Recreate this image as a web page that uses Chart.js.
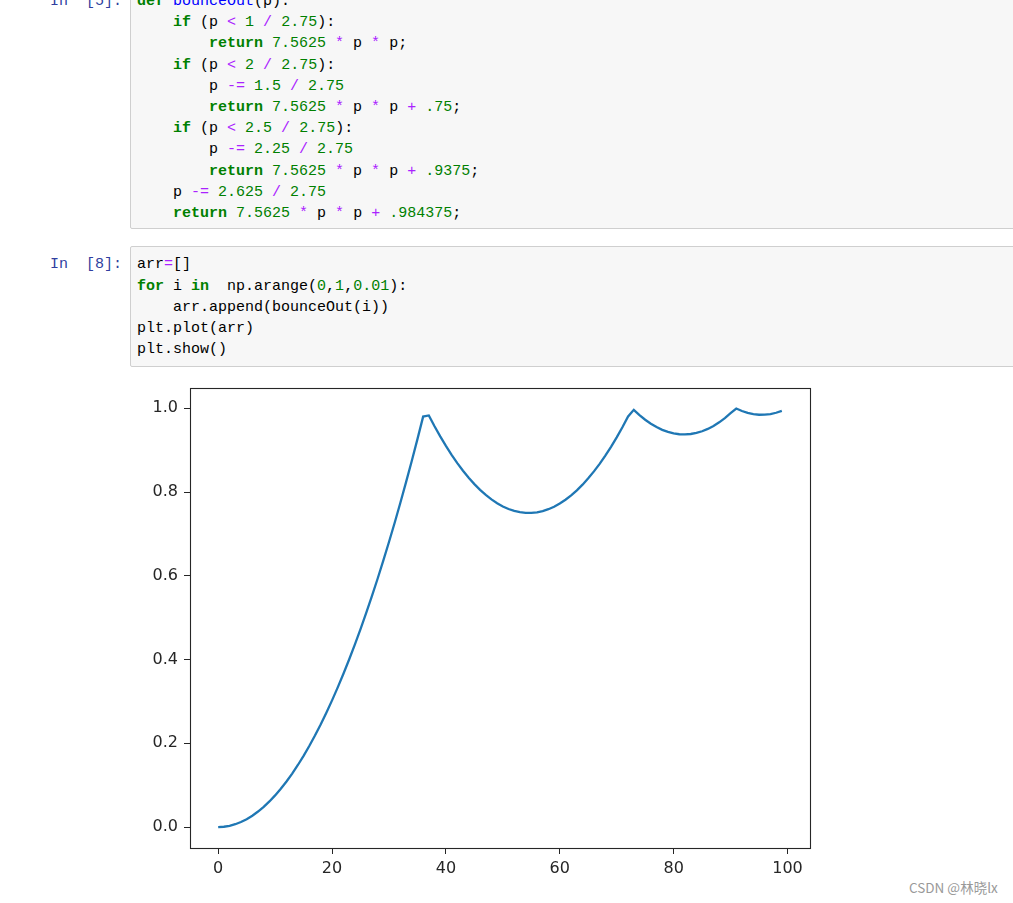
<!DOCTYPE html>
<html>
<head>
<meta charset="utf-8">
<script src="https://cdn.jsdelivr.net/npm/chart.js@4/dist/chart.umd.min.js"></script>
<style>
  html, body { margin: 0; padding: 0; background: #fff; }
  body { width: 1013px; height: 903px; overflow: hidden; position: relative; }
  .box {
    position: absolute; left: 130px; width: 1000px;
    background: #f7f7f7; border: 1px solid #cfcfcf; border-radius: 2px;
    box-sizing: border-box;
  }
  pre {
    margin: 0; font-family: "Liberation Mono", "DejaVu Sans Mono", monospace;
    font-size: 15px; line-height: 21.2px; color: #000;
  }
  .code { position: absolute; left: 137px; }
  .prompt { position: absolute; right: 891px; color: #303f9f; }
  .k { color: #008000; font-weight: bold; }
  .n { color: #008000; }
  .o { color: #aa22ff; }
  .f { color: #0000ff; }
  #wrap { position: absolute; left: 120px; top: 372px; width: 700px; height: 515px; }
  #mark {
    position: absolute; left: 909px; top: 877px; color: #999;
    font-family: "Noto Sans CJK SC", "Noto Sans", sans-serif; font-size: 13.5px;
  }
</style>
</head>
<body>
<div class="box" style="top:-18px; height:247px;"></div>
<pre class="prompt" style="top:-9.1px;">In  [5]:</pre>
<pre class="code" style="top:-9.1px;"><span class="k">def</span> <span class="f">bounceOut</span>(p):
    <span class="k">if</span> (p <span class="o">&lt;</span> <span class="n">1</span> <span class="o">/</span> <span class="n">2.75</span>):
        <span class="k">return</span> <span class="n">7.5625</span> <span class="o">*</span> p <span class="o">*</span> p;
    <span class="k">if</span> (p <span class="o">&lt;</span> <span class="n">2</span> <span class="o">/</span> <span class="n">2.75</span>):
        p <span class="o">-=</span> <span class="n">1.5</span> <span class="o">/</span> <span class="n">2.75</span>
        <span class="k">return</span> <span class="n">7.5625</span> <span class="o">*</span> p <span class="o">*</span> p <span class="o">+</span> <span class="n">.75</span>;
    <span class="k">if</span> (p <span class="o">&lt;</span> <span class="n">2.5</span> <span class="o">/</span> <span class="n">2.75</span>):
        p <span class="o">-=</span> <span class="n">2.25</span> <span class="o">/</span> <span class="n">2.75</span>
        <span class="k">return</span> <span class="n">7.5625</span> <span class="o">*</span> p <span class="o">*</span> p <span class="o">+</span> <span class="n">.9375</span>;
    p <span class="o">-=</span> <span class="n">2.625</span> <span class="o">/</span> <span class="n">2.75</span>
    <span class="k">return</span> <span class="n">7.5625</span> <span class="o">*</span> p <span class="o">*</span> p <span class="o">+</span> <span class="n">.984375</span>;</pre>

<div class="box" style="top:246px; height:121px;"></div>
<pre class="prompt" style="top:254.4px;">In  [8]:</pre>
<pre class="code" style="top:254.4px;">arr<span class="o">=</span>[]
<span class="k">for</span> i <span class="k">in</span>  np.arange(<span class="n">0</span>,<span class="n">1</span>,<span class="n">0.01</span>):
    arr.append(bounceOut(i))
plt.plot(arr)
plt.show()</pre>

<div id="wrap"><canvas id="myChart" width="700" height="515"></canvas></div>
<div id="mark">CSDN @林晓lx</div>

<script>
// bounceOut(i) for i in np.arange(0, 1, 0.01)
const arr = [
    0.000000, 0.000756, 0.003025, 0.006806, 0.012100, 0.018906, 0.027225, 0.037056, 0.048400, 0.061256,
    0.075625, 0.091506, 0.108900, 0.127806, 0.148225, 0.170156, 0.193600, 0.218556, 0.245025, 0.273006,
    0.302500, 0.333506, 0.366025, 0.400056, 0.435600, 0.472656, 0.511225, 0.551306, 0.592900, 0.636006,
    0.680625, 0.726756, 0.774400, 0.823556, 0.874225, 0.926406, 0.980100, 0.982806, 0.957025, 0.932756,
    0.910000, 0.888756, 0.869025, 0.850806, 0.834100, 0.818906, 0.805225, 0.793056, 0.782400, 0.773256,
    0.765625, 0.759506, 0.754900, 0.751806, 0.750225, 0.750156, 0.751600, 0.754556, 0.759025, 0.765006,
    0.772500, 0.781506, 0.792025, 0.804056, 0.817600, 0.832656, 0.849225, 0.867306, 0.886900, 0.908006,
    0.930625, 0.954756, 0.980400, 0.996306, 0.983725, 0.972656, 0.963100, 0.955056, 0.948525, 0.943506,
    0.940000, 0.938006, 0.937525, 0.938556, 0.941100, 0.945156, 0.950725, 0.957806, 0.966400, 0.976506,
    0.988125, 0.999381, 0.993400, 0.988931, 0.985975, 0.984531, 0.984600, 0.986181, 0.989275, 0.993881
];

const xTicks = [0, 20, 40, 60, 80, 100];
const xTickLabels = ['0', '20', '40', '60', '80', '100'];
const yTicks = [0, 0.2, 0.4, 0.6, 0.8, 1.0];
const yTickLabels = ['0.0', '0.2', '0.4', '0.6', '0.8', '1.0'];

const INK = '#262626';
const tickFont = { family: "'DejaVu Sans', sans-serif", size: 16 };

// matplotlib style frame around the axes
const frame = {
    id: 'frame',
    afterDraw(chart) {
        const a = chart.chartArea;
        const c = chart.ctx;
        c.save();
        c.strokeStyle = INK;
        c.lineWidth = 1.1;
        c.strokeRect(Math.round(a.left) + 0.5, Math.round(a.top) + 0.5,
            Math.round(a.right - a.left), Math.round(a.bottom - a.top));
        c.restore();
    }
};

const ctx = document.getElementById('myChart').getContext('2d');

new Chart(ctx, {
    type: 'line',
    data: {
        datasets: [{
            data: arr.map((v, i) => ({ x: i, y: v })),
            borderColor: '#1f77b4',
            borderWidth: 2.3,
            pointRadius: 0,
            tension: 0,
            fill: false
        }]
    },
    options: {
        responsive: false,
        animation: false,
        layout: { padding: { top: 15, right: 10, left: 0, bottom: 0 } },
        plugins: {
            legend: { display: false },
            tooltip: { enabled: false }
        },
        scales: {
            x: {
                type: 'linear',
                min: -4.95,
                max: 103.95,
                afterBuildTicks: s => { s.ticks = xTicks.map(v => ({ value: v })); },
                afterFit: s => { s.height = 39; },
                ticks: {
                    autoSkip: false,
                    maxRotation: 0,
                    padding: 5,
                    color: INK,
                    font: tickFont,
                    callback: v => xTickLabels[xTicks.indexOf(v)]
                },
                grid: { drawOnChartArea: false, tickLength: 6, color: INK, tickWidth: 1 },
                border: { display: false }
            },
            y: {
                min: -0.04997,
                max: 1.04935,
                afterBuildTicks: s => { s.ticks = yTicks.map(v => ({ value: v })); },
                afterFit: s => { s.width = 70; },
                ticks: {
                    autoSkip: false,
                    padding: 6,
                    color: INK,
                    font: tickFont,
                    callback: v => yTickLabels[yTicks.indexOf(v)]
                },
                grid: { drawOnChartArea: false, tickLength: 6, color: INK, tickWidth: 1 },
                border: { display: false }
            }
        }
    },
    plugins: [frame]
});
</script>
</body>
</html>
